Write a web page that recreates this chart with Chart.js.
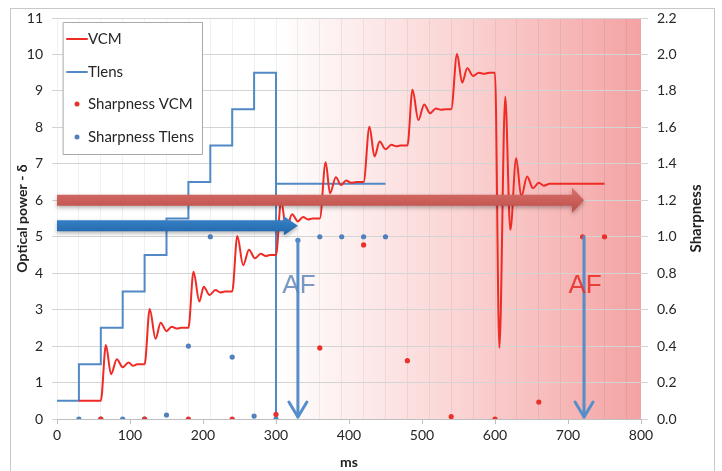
<!DOCTYPE html>
<html>
<head>
<meta charset="utf-8">
<script src="https://cdn.jsdelivr.net/npm/chart.js@4.4.1/dist/chart.umd.min.js"></script>
<style>
  html, body { margin: 0; padding: 0; background: #fff; }
</style>
</head>
<body>
<canvas id="chart" width="722" height="471"></canvas>
<script>
// ---- data ----
// VCM actuator response (optical power, dioptres)
const vcmMs = [30, 60, 67, 74, 82, 90, 98, 104, 110, 120,
  127, 135, 142, 150, 157, 164, 170, 180,
  187, 195, 201, 209, 217, 224, 230, 240,
  247, 255, 263, 271, 279, 286, 292, 300,
  307, 314, 322, 330, 337, 344, 350, 360,
  368, 374, 382, 389, 396, 403, 410, 420,
  428, 435, 442, 450, 458, 465, 470, 480,
  487, 495, 503, 511, 519, 526, 532, 540,
  548, 555, 562, 570, 578, 585, 592, 600,
  606, 614, 621, 629, 636, 644, 652, 660, 667, 675, 750];
const vcmPower = [0.5, 0.5, 2.03, 1.23, 1.64, 1.42, 1.55, 1.46, 1.5, 1.5,
  3.02, 2.2, 2.64, 2.41, 2.53, 2.48, 2.5, 2.5,
  4.04, 3.22, 3.63, 3.4, 3.54, 3.47, 3.5, 3.5,
  5.02, 4.22, 4.64, 4.41, 4.53, 4.47, 4.5, 4.5,
  6.0, 5.2, 5.62, 5.42, 5.54, 5.47, 5.5, 5.5,
  7.04, 6.19, 6.63, 6.42, 6.54, 6.48, 6.5, 6.5,
  8.02, 7.2, 7.61, 7.4, 7.52, 7.48, 7.5, 7.5,
  9.03, 8.2, 8.63, 8.39, 8.52, 8.48, 8.5, 8.5,
  10.01, 9.23, 9.62, 9.41, 9.5, 9.47, 9.5, 9.5,
  1.95, 8.84, 5.19, 7.15, 6.1, 6.65, 6.33, 6.48, 6.4, 6.45, 6.45];

// Tunable lens steps
const tlensMs = [0, 30, 30, 60, 60, 90, 90, 120, 120, 150, 150, 180, 180, 210, 210, 240, 240, 270, 270, 300, 300, 300, 450];
const tlensPower = [0.5, 0.5, 1.5, 1.5, 2.5, 2.5, 3.5, 3.5, 4.5, 4.5, 5.5, 5.5, 6.5, 6.5, 7.5, 7.5, 8.5, 8.5, 9.5, 9.5, 0, 6.45, 6.45];

// Sharpness samples (right axis)
const sharpVcmMs = [60, 120, 180, 240, 300, 360, 420, 480, 540, 600, 660, 720, 750];
const sharpVcmVal = [0, 0, 0, 0, 0.025, 0.39, 0.955, 0.32, 0.013, 0, 0.093, 1.0, 1.0];
const sharpTlensMs = [30, 60, 90, 120, 150, 180, 210, 240, 270, 300, 330, 360, 390, 420, 450];
const sharpTlensVal = [0, 0, 0, 0, 0.022, 0.4, 1.0, 0.34, 0.016, 0, 0.98, 1.0, 1.0, 1.0, 1.0];

// annotations: horizontal sweep arrows (tip ms, power) and AF markers
const sweepTipMs = [722, 330];
const sweepPower = [6.0, 5.3];
const afMs = [330, 722];
const afTopSharp = [0.98, 1.0];
const afLabelPower = 3.65;

const FONT = 'Lato, "Open Sans", sans-serif';
const RED = '#ee2b25';
const BLUE = '#5089c6';

function pts(xs, ys) {
    return xs.map(function(x, i) { return { x: x, y: ys[i] }; });
}

// background: frame + pink gradient behind the AF search region
const backdrop = {
    id: 'backdrop',
    beforeDraw: function(chart) {
        const c = chart.ctx;
        const a = chart.chartArea;
        const x = chart.scales.x;
        c.save();
        c.fillStyle = '#fff';
        c.fillRect(0, 0, chart.width, chart.height);
        c.strokeStyle = '#c8c8c8';
        c.lineWidth = 1;
        c.strokeRect(10.5, 8.5, 704, 480);
        const x0 = x.getPixelForValue(300);
        const g = c.createLinearGradient(x0, 0, a.right, 0);
        g.addColorStop(0, 'rgba(255,255,255,1)');
        g.addColorStop(0.5, '#fbd4d4');
        g.addColorStop(1, '#f4a3a3');
        c.fillStyle = g;
        c.fillRect(x0, a.top, a.right - x0, a.bottom - a.top);
        c.restore();
    }
};

function hArrow(c, x0, x1, y, shaft, headHalf, headLen) {
    c.beginPath();
    c.moveTo(x0, y - shaft / 2);
    c.lineTo(x1 - headLen, y - shaft / 2);
    c.lineTo(x1 - headLen, y - headHalf);
    c.lineTo(x1, y);
    c.lineTo(x1 - headLen, y + headHalf);
    c.lineTo(x1 - headLen, y + shaft / 2);
    c.lineTo(x0, y + shaft / 2);
    c.closePath();
    c.fill();
}

// arrows, AF labels, legend box, right axis title
const overlay = {
    id: 'overlay',
    afterDatasetsDraw: function(chart) {
        const c = chart.ctx;
        const a = chart.chartArea;
        const sx = chart.scales.x, sy = chart.scales.y, s2 = chart.scales.y2;
        c.save();

        // red sweep arrow
        let y = sy.getPixelForValue(sweepPower[0]);
        c.shadowColor = 'rgba(0,0,0,0.3)';
        c.shadowBlur = 4;
        c.shadowOffsetY = 2;
        let g = c.createLinearGradient(0, y - 12, 0, y + 12);
        g.addColorStop(0, '#d8706b');
        g.addColorStop(1, '#bd4d48');
        c.fillStyle = g;
        hArrow(c, a.left, sx.getPixelForValue(sweepTipMs[0]), y, 11, 12.5, 12);

        // blue sweep arrow
        y = sy.getPixelForValue(sweepPower[1]);
        g = c.createLinearGradient(0, y - 10, 0, y + 10);
        g.addColorStop(0, '#3c86cc');
        g.addColorStop(1, '#1f64a8');
        c.fillStyle = g;
        hArrow(c, a.left, sx.getPixelForValue(sweepTipMs[1]), y, 11, 9.5, 14);
        c.shadowColor = 'transparent';

        // AF drop arrows
        c.strokeStyle = '#558fcb';
        c.lineWidth = 3;
        c.lineCap = 'round';
        c.lineJoin = 'round';
        afMs.forEach(function(ms, i) {
            const px = sx.getPixelForValue(ms);
            const top = s2.getPixelForValue(afTopSharp[i]);
            const tip = sy.getPixelForValue(0) - 2;
            c.beginPath();
            c.moveTo(px, top);
            c.lineTo(px, tip);
            c.stroke();
            c.beginPath();
            c.moveTo(px - 9, tip - 15);
            c.lineTo(px, tip);
            c.lineTo(px + 9, tip - 15);
            c.stroke();
        });

        // AF labels
        c.font = '26px "Liberation Sans", Arial, sans-serif';
        c.textAlign = 'center';
        c.textBaseline = 'middle';
        const ly = sy.getPixelForValue(afLabelPower);
        c.fillStyle = 'rgba(96,135,185,0.85)';
        c.fillText('AF', sx.getPixelForValue(afMs[0]) + 1, ly);
        c.fillStyle = 'rgba(232,50,45,0.9)';
        c.fillText('AF', sx.getPixelForValue(afMs[1]) + 1, ly);

        // legend box
        c.fillStyle = '#fff';
        c.fillRect(63, 22, 139, 132);
        c.strokeStyle = '#a8a8a8';
        c.lineWidth = 1;
        c.strokeRect(63.5, 22.5, 139, 132);
        c.font = '15px ' + FONT;
        c.textAlign = 'left';
        c.fillStyle = '#262626';
        const rows = [
            { t: 'VCM', y: 39, kind: 'line', col: RED },
            { t: 'Tlens', y: 72, kind: 'line', col: BLUE },
            { t: 'Sharpness VCM', y: 104, kind: 'dot', col: '#e8312b' },
            { t: 'Sharpness Tlens', y: 137, kind: 'dot', col: '#4f81bd' }
        ];
        rows.forEach(function(r) {
            if (r.kind === 'line') {
                c.strokeStyle = r.col;
                c.lineWidth = 2;
                c.beginPath();
                c.moveTo(67, r.y);
                c.lineTo(87, r.y);
                c.stroke();
            } else {
                c.fillStyle = r.col;
                c.beginPath();
                c.arc(77, r.y, 2.5, 0, Math.PI * 2);
                c.fill();
            }
            c.fillStyle = '#262626';
            c.fillText(r.t, 88, r.y);
        });

        // right axis title, reading bottom-up like the left one
        c.translate(696, (a.top + a.bottom) / 2);
        c.rotate(-Math.PI / 2);
        c.font = 'bold 15px ' + FONT;
        c.textAlign = 'center';
        c.fillStyle = '#222';
        c.fillText('Sharpness', 0, 0);
        c.restore();
    }
};

const ctx = document.getElementById('chart');

new Chart(ctx, {
    type: 'line',
    data: {
        datasets: [{
            label: 'Sharpness VCM',
            data: pts(sharpVcmMs, sharpVcmVal),
            yAxisID: 'y2',
            showLine: false,
            pointRadius: 2.6,
            pointBorderWidth: 0,
            pointBackgroundColor: '#e8312b'
        }, {
            label: 'Sharpness Tlens',
            data: pts(sharpTlensMs, sharpTlensVal),
            yAxisID: 'y2',
            showLine: false,
            pointRadius: 2.6,
            pointBorderWidth: 0,
            pointBackgroundColor: '#4f81bd'
        }, {
            label: 'VCM',
            data: pts(vcmMs, vcmPower),
            yAxisID: 'y',
            borderColor: RED,
            borderWidth: 2,
            pointRadius: 0,
            fill: false,
            cubicInterpolationMode: 'monotone'
        }, {
            label: 'Tlens',
            data: pts(tlensMs, tlensPower),
            yAxisID: 'y',
            borderColor: BLUE,
            borderWidth: 2,
            pointRadius: 0,
            fill: false,
            tension: 0
        }]
    },
    options: {
        responsive: false,
        animation: false,
        devicePixelRatio: 1,
        layout: { padding: { top: 18, left: 10, right: 10, bottom: 0 } },
        plugins: {
            legend: { display: false },
            tooltip: { enabled: false }
        },
        scales: {
            x: {
                type: 'linear',
                min: 0,
                max: 800,
                afterFit: function(s) { s.height = 52; },
                ticks: {
                    stepSize: 10,
                    autoSkip: false,
                    maxRotation: 0,
                    padding: 3,
                    color: '#262626',
                    font: { family: FONT, size: 14 },
                    callback: function(v) { return v % 100 === 0 ? v : ''; }
                },
                grid: {
                    color: function(c) { return c.tick && c.tick.value % 30 === 0 ? 'rgba(0,0,0,0.06)' : 'rgba(0,0,0,0)'; },
                    tickColor: function(c) { return c.tick && c.tick.value % 100 === 0 ? '#bfbfbf' : 'rgba(0,0,0,0)'; },
                    tickLength: 5
                },
                border: { color: '#bfbfbf' },
                title: {
                    display: true,
                    text: 'ms',
                    color: '#222',
                    padding: { top: 0, bottom: 0 },
                    font: { family: FONT, size: 14, weight: 'bold' }
                }
            },
            y: {
                position: 'left',
                min: 0,
                max: 11,
                afterFit: function(s) { s.width = 47; },
                ticks: {
                    stepSize: 1,
                    padding: 9,
                    color: '#262626',
                    font: { family: FONT, size: 14 }
                },
                grid: { color: '#d4d4d4', tickLength: 5 },
                border: { display: false },
                title: {
                    display: true,
                    text: 'Optical power - δ',
                    color: '#222',
                    padding: { top: 4, bottom: 0 },
                    font: { family: FONT, size: 14, weight: 'bold' }
                }
            },
            y2: {
                position: 'right',
                min: 0,
                max: 2.2,
                afterFit: function(s) { s.width = 71; },
                ticks: {
                    stepSize: 0.2,
                    padding: 9,
                    color: '#262626',
                    font: { family: FONT, size: 14 },
                    callback: function(v) { return v.toFixed(1); }
                },
                grid: { drawOnChartArea: false, color: '#d4d4d4', tickLength: 7 },
                border: { display: false }
            }
        }
    },
    plugins: [backdrop, overlay]
});
</script>
</body>
</html>
